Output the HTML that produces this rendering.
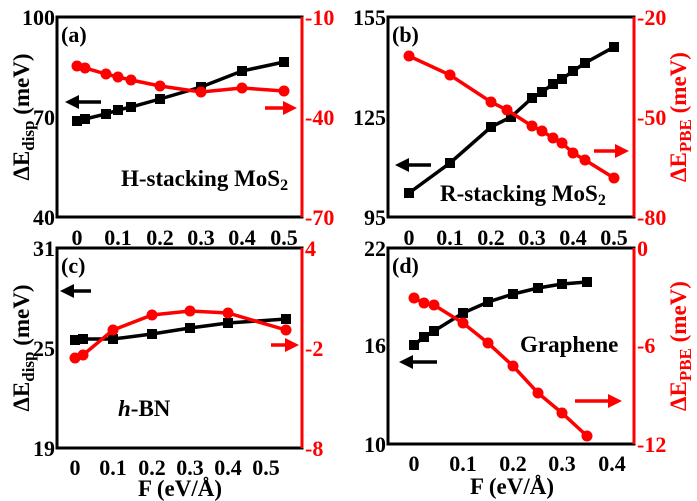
<!DOCTYPE html><html><head><style>body{margin:0;background:#fff}svg{display:block;font-family:"Liberation Serif",serif;font-weight:bold}</style></head><body>
<svg width="697" height="501" viewBox="0 0 697 501" xmlns="http://www.w3.org/2000/svg">
<defs>
<marker id="ak" markerWidth="4" markerHeight="4" refX="2" refY="2" orient="auto" markerUnits="strokeWidth"><path d="M0,0L4,2L0,4z" fill="#000"/></marker>
<marker id="ar" markerWidth="4" markerHeight="4" refX="2" refY="2" orient="auto" markerUnits="strokeWidth"><path d="M0,0L4,2L0,4z" fill="red"/></marker>
</defs>
<g font-size="22">
<!-- Panel a -->
<rect x="57" y="17" width="245" height="200" fill="none" stroke="#000" stroke-width="3"/>
<line x1="302" y1="17" x2="302" y2="217" stroke="red" stroke-width="3"/>
<g text-anchor="end"><text x="55" y="25">100</text><text x="55" y="125">70</text><text x="55" y="225">40</text></g>
<g fill="red"><text x="305" y="25">-10</text><text x="305" y="125">-40</text><text x="305" y="225">-70</text></g>
<g text-anchor="middle"><text x="77" y="245">0</text><text x="118" y="245">0.1</text><text x="160" y="245">0.2</text><text x="201" y="245">0.3</text><text x="242" y="245">0.4</text><text x="284" y="245">0.5</text></g>
<text x="61" y="42">(a)</text>
<text x="121" y="186" font-size="23">H-stacking MoS<tspan font-size="16" dy="4">2</tspan></text>
<polyline points="77,121 85,119 106,114 118,110 131,107 160,99 201,87 242,71 284,62" fill="none" stroke="#000" stroke-width="3.5"/>
<g fill="#000"><rect x="72" y="116" width="10" height="10"/><rect x="80" y="114" width="10" height="10"/><rect x="101" y="109" width="10" height="10"/><rect x="113" y="105" width="10" height="10"/><rect x="126" y="102" width="10" height="10"/><rect x="155" y="94" width="10" height="10"/><rect x="196" y="82" width="10" height="10"/><rect x="237" y="66" width="10" height="10"/><rect x="279" y="57" width="10" height="10"/></g>
<polyline points="77,66 85,68 106,74 118,77 131,80 160,86 201,92 242,88 284,91" fill="none" stroke="red" stroke-width="3.5"/>
<g fill="red"><circle cx="77" cy="66" r="5.5"/><circle cx="85" cy="68" r="5.5"/><circle cx="106" cy="74" r="5.5"/><circle cx="118" cy="77" r="5.5"/><circle cx="131" cy="80" r="5.5"/><circle cx="160" cy="86" r="5.5"/><circle cx="201" cy="92" r="5.5"/><circle cx="242" cy="88" r="5.5"/><circle cx="284" cy="91" r="5.5"/></g>
<line x1="101" y1="102" x2="72" y2="102" stroke="#000" stroke-width="3.5" marker-end="url(#ak)"/>
<line x1="265" y1="108" x2="290" y2="108" stroke="red" stroke-width="3.5" marker-end="url(#ar)"/>

<!-- Panel b -->
<rect x="388" y="17" width="246" height="200" fill="none" stroke="#000" stroke-width="3"/>
<line x1="634" y1="17" x2="634" y2="217" stroke="red" stroke-width="3"/>
<g text-anchor="end"><text x="386" y="25">155</text><text x="386" y="125">125</text><text x="386" y="225">95</text></g>
<g fill="red"><text x="637" y="25">-20</text><text x="637" y="125">-50</text><text x="637" y="225">-80</text></g>
<g text-anchor="middle"><text x="409" y="245">0</text><text x="450" y="245">0.1</text><text x="491" y="245">0.2</text><text x="532" y="245">0.3</text><text x="573" y="245">0.4</text><text x="614" y="245">0.5</text></g>
<text x="392" y="42">(b)</text>
<text x="440" y="201" font-size="23">R-stacking MoS<tspan font-size="16" dy="4">2</tspan></text>
<polyline points="409,193 450,163 491,127 511,117 532,98 542,92 553,84 562,79 573,71 585,63 614,47" fill="none" stroke="#000" stroke-width="3.5"/>
<g fill="#000"><rect x="404" y="188" width="10" height="10"/><rect x="445" y="158" width="10" height="10"/><rect x="486" y="122" width="10" height="10"/><rect x="506" y="112" width="10" height="10"/><rect x="527" y="93" width="10" height="10"/><rect x="537" y="87" width="10" height="10"/><rect x="548" y="79" width="10" height="10"/><rect x="557" y="74" width="10" height="10"/><rect x="568" y="66" width="10" height="10"/><rect x="580" y="58" width="10" height="10"/><rect x="609" y="42" width="10" height="10"/></g>
<polyline points="409,56 450,75 491,102 507,110 532,126 542,131 553,138 562,143 573,153 585,160 614,178" fill="none" stroke="red" stroke-width="3.5"/>
<g fill="red"><circle cx="409" cy="56" r="5.5"/><circle cx="450" cy="75" r="5.5"/><circle cx="491" cy="102" r="5.5"/><circle cx="507" cy="110" r="5.5"/><circle cx="532" cy="126" r="5.5"/><circle cx="542" cy="131" r="5.5"/><circle cx="553" cy="138" r="5.5"/><circle cx="562" cy="143" r="5.5"/><circle cx="573" cy="153" r="5.5"/><circle cx="585" cy="160" r="5.5"/><circle cx="614" cy="178" r="5.5"/></g>
<line x1="431" y1="165" x2="402" y2="165" stroke="#000" stroke-width="3.5" marker-end="url(#ak)"/>
<line x1="594" y1="151" x2="622" y2="151" stroke="red" stroke-width="3.5" marker-end="url(#ar)"/>

<!-- Panel c -->
<rect x="57" y="248" width="245" height="200" fill="none" stroke="#000" stroke-width="3"/>
<line x1="302" y1="248" x2="302" y2="448" stroke="red" stroke-width="3"/>
<g text-anchor="end"><text x="55" y="256">31</text><text x="55" y="356">25</text><text x="55" y="456">19</text></g>
<g fill="red"><text x="305" y="256">4</text><text x="305" y="356">-2</text><text x="305" y="456">-8</text></g>
<g text-anchor="middle"><text x="75" y="475">0</text><text x="113" y="475">0.1</text><text x="152" y="475">0.2</text><text x="190" y="475">0.3</text><text x="228" y="475">0.4</text><text x="266" y="475">0.5</text></g>
<text x="61" y="273">(c)</text>
<text x="118" y="416" font-size="23"><tspan font-style="italic">h</tspan>-BN</text>
<polyline points="75,340 83,339 113,339 152,334 190,328 228,323 286,319" fill="none" stroke="#000" stroke-width="3.5"/>
<g fill="#000"><rect x="70" y="335" width="10" height="10"/><rect x="78" y="334" width="10" height="10"/><rect x="108" y="334" width="10" height="10"/><rect x="147" y="329" width="10" height="10"/><rect x="185" y="323" width="10" height="10"/><rect x="223" y="318" width="10" height="10"/><rect x="281" y="314" width="10" height="10"/></g>
<polyline points="75,358 83,355 113,330 152,315 190,311 228,313 286,330" fill="none" stroke="red" stroke-width="3.5"/>
<g fill="red"><circle cx="75" cy="358" r="5.5"/><circle cx="83" cy="355" r="5.5"/><circle cx="113" cy="330" r="5.5"/><circle cx="152" cy="315" r="5.5"/><circle cx="190" cy="311" r="5.5"/><circle cx="228" cy="313" r="5.5"/><circle cx="286" cy="330" r="5.5"/></g>
<line x1="91" y1="291" x2="67" y2="291" stroke="#000" stroke-width="3.5" marker-end="url(#ak)"/>
<line x1="271" y1="345" x2="292" y2="345" stroke="red" stroke-width="3.5" marker-end="url(#ar)"/>

<!-- Panel d -->
<rect x="388" y="248" width="246" height="196" fill="none" stroke="#000" stroke-width="3"/>
<line x1="634" y1="248" x2="634" y2="444" stroke="red" stroke-width="3"/>
<g text-anchor="end"><text x="386" y="256">22</text><text x="386" y="353">16</text><text x="386" y="452">10</text></g>
<g fill="red"><text x="637" y="256">0</text><text x="637" y="353">-6</text><text x="637" y="452">-12</text></g>
<g text-anchor="middle"><text x="414" y="471">0</text><text x="463" y="471">0.1</text><text x="513" y="471">0.2</text><text x="562" y="471">0.3</text><text x="612" y="471">0.4</text></g>
<text x="392" y="273">(d)</text>
<text x="520" y="352" font-size="23">Graphene</text>
<polyline points="414,345 424,337 434,331 463,313 488,302 513,294 538,288 562,284 587,282" fill="none" stroke="#000" stroke-width="3.5"/>
<g fill="#000"><rect x="409" y="340" width="10" height="10"/><rect x="419" y="332" width="10" height="10"/><rect x="429" y="326" width="10" height="10"/><rect x="458" y="308" width="10" height="10"/><rect x="483" y="297" width="10" height="10"/><rect x="508" y="289" width="10" height="10"/><rect x="533" y="283" width="10" height="10"/><rect x="557" y="279" width="10" height="10"/><rect x="582" y="277" width="10" height="10"/></g>
<polyline points="414,298 424,303 434,305 463,323 488,343 513,366 538,393 562,413 587,436" fill="none" stroke="red" stroke-width="3.5"/>
<g fill="red"><circle cx="414" cy="298" r="5.5"/><circle cx="424" cy="303" r="5.5"/><circle cx="434" cy="305" r="5.5"/><circle cx="463" cy="323" r="5.5"/><circle cx="488" cy="343" r="5.5"/><circle cx="513" cy="366" r="5.5"/><circle cx="538" cy="393" r="5.5"/><circle cx="562" cy="413" r="5.5"/><circle cx="587" cy="436" r="5.5"/></g>
<line x1="437" y1="362" x2="406" y2="362" stroke="#000" stroke-width="3.5" marker-end="url(#ak)"/>
<line x1="575" y1="401" x2="615" y2="401" stroke="red" stroke-width="3.5" marker-end="url(#ar)"/>

<!-- axis titles -->
<g font-size="23" text-anchor="middle">
<text transform="translate(29,117) rotate(-90)">ΔE<tspan font-size="17" dy="5">disp</tspan><tspan dy="-5"> (meV)</tspan></text>
<text transform="translate(29,348) rotate(-90)">ΔE<tspan font-size="17" dy="5">disp</tspan><tspan dy="-5"> (meV)</tspan></text>
<text fill="red" transform="translate(686,117) rotate(-90)">ΔE<tspan font-size="17" dy="5">PBE</tspan><tspan dy="-5"> (meV)</tspan></text>
<text fill="red" transform="translate(686,346) rotate(-90)">ΔE<tspan font-size="17" dy="5">PBE</tspan><tspan dy="-5"> (meV)</tspan></text>
<text x="180" y="496">F (eV/Å)</text>
<text x="512" y="494">F (eV/Å)</text>
</g>
</g>
</svg>
</body></html>
